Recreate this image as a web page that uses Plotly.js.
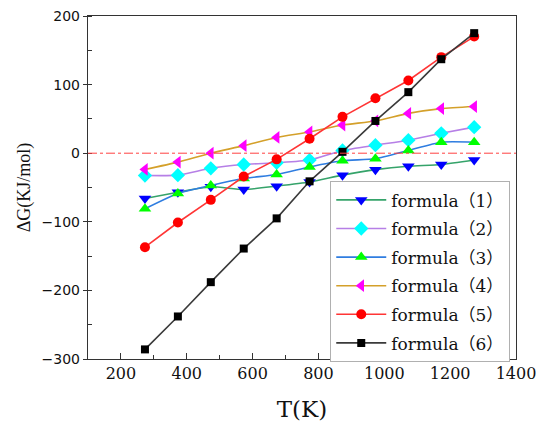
<!DOCTYPE html>
<html>
<head>
<meta charset="utf-8">
<script src="https://cdn.plot.ly/plotly-3.0.1.min.js"></script>
<style>html,body{margin:0;padding:0;background:#fff;}#chart{width:540px;height:432px;}</style>
</head>
<body>
<div id="chart"></div>
<script>
const T = [273, 373, 473, 573, 673, 773, 873, 973, 1073, 1173, 1273];
const formula1 = [-66, -57, -49, -53, -48, -42, -32, -24, -19, -16.5, -10];
const formula2 = [-32.5, -32, -22, -16.5, -14, -10, 4, 11.7, 19, 29, 38];
const formula3 = [-81, -58.7, -47, -37, -31, -20, -11, -8, 4, 16, 16];
const formula4 = [-23.7, -13, 0, 11, 23, 31, 41, 47, 58, 65, 68];
const formula5 = [-137, -101, -68, -34, -9, 21, 53, 80, 106, 140, 170];
const formula6 = [-286, -238, -188, -139, -95, -41, 2, 47, 89, 137, 175];
const names = ['formula\uFF081\uFF09','formula\uFF082\uFF09','formula\uFF083\uFF09','formula\uFF084\uFF09','formula\uFF085\uFF09','formula\uFF086\uFF09'];
const xTicks = [200, 400, 600, 800, 1000, 1200, 1400];
const yTicks = [-300, -200, -100, 0, 100, 200];

const series = [formula1, formula2, formula3, formula4, formula5, formula6];
const lineColors = ['#35a36a', '#b67fe6', '#2f7de0', '#d4a02a', '#ff3535', '#3a3a3a'];
const markerColors = ['#0000ff', '#00ffff', '#00ff00', '#ff00ff', '#ff0000', '#000000'];
const symbols = ['triangle-down', 'diamond', 'triangle-up', 'triangle-left', 'circle', 'square'];
const shapes = ['spline', 'spline', 'spline', 'spline', 'linear', 'linear'];
const sizes = [11, 11, 11, 11, 10, 8];

const traces = series.map((y, i) => ({
  x: T, y: y, name: names[i], type: 'scatter', mode: 'lines+markers',
  legendgroup: 'g' + i,
  line: {color: lineColors[i], width: 1.6, shape: shapes[i], smoothing: 0.6},
  marker: {color: markerColors[i], symbol: symbols[i], size: sizes[i], line: {width: 0}}
}));

const serif = '"DejaVu Serif", "Noto Sans CJK SC", serif';
const layout = {
  width: 540, height: 432,
  margin: {l: 88, r: 24, t: 16, b: 73},
  paper_bgcolor: '#fff', plot_bgcolor: '#fff',
  showlegend: true,
  legend: {
    x: 0.566, y: 0.518, xanchor: 'left', yanchor: 'top',
    bgcolor: '#fff', bordercolor: '#b0b0b0', borderwidth: 1,
    font: {family: serif, size: 17, color: '#111'},
    itemwidth: 50, traceorder: 'grouped', tracegroupgap: 3.5
  },
  xaxis: {
    range: [100, 1400], tickvals: xTicks, ticktext: xTicks.map(String),
    ticks: 'inside', ticklen: 6, tickwidth: 1, tickcolor: '#333',
    minor: {dtick: 100, ticks: 'inside', ticklen: 4, tickcolor: '#333', showgrid: false},
    showline: true, linecolor: '#333', linewidth: 1.2, mirror: true,
    showgrid: false, zeroline: false,
    tickfont: {family: serif, size: 16, color: '#111'},
    title: {text: 'T(K)', font: {family: serif, size: 23, color: '#111'}, standoff: 18}
  },
  yaxis: {
    range: [-300, 200], tickvals: yTicks, ticktext: yTicks.map(v => v < 0 ? '\u2212' + Math.abs(v) : String(v)),
    ticks: 'outside', ticklen: 4, tickwidth: 1, tickcolor: '#333',
    minor: {dtick: 50, ticks: 'inside', ticklen: 4, tickcolor: '#333', showgrid: false},
    showline: true, linecolor: '#333', linewidth: 1.2, mirror: true,
    showgrid: false, zeroline: false,
    tickfont: {family: '"DejaVu Sans", sans-serif', size: 14, color: '#111'},
    title: {text: '\u0394G(KJ/mol)', font: {family: '"Liberation Serif", serif', size: 18, color: '#111'}, standoff: 6}
  },
  shapes: [{
    type: 'line', xref: 'paper', x0: 0, x1: 1, yref: 'y', y0: 0, y1: 0,
    line: {color: '#ff4040', width: 1, dash: 'dashdot'}
  }]
};

Plotly.newPlot('chart', traces, layout, {staticPlot: true, displayModeBar: false});
</script>
</body>
</html>
